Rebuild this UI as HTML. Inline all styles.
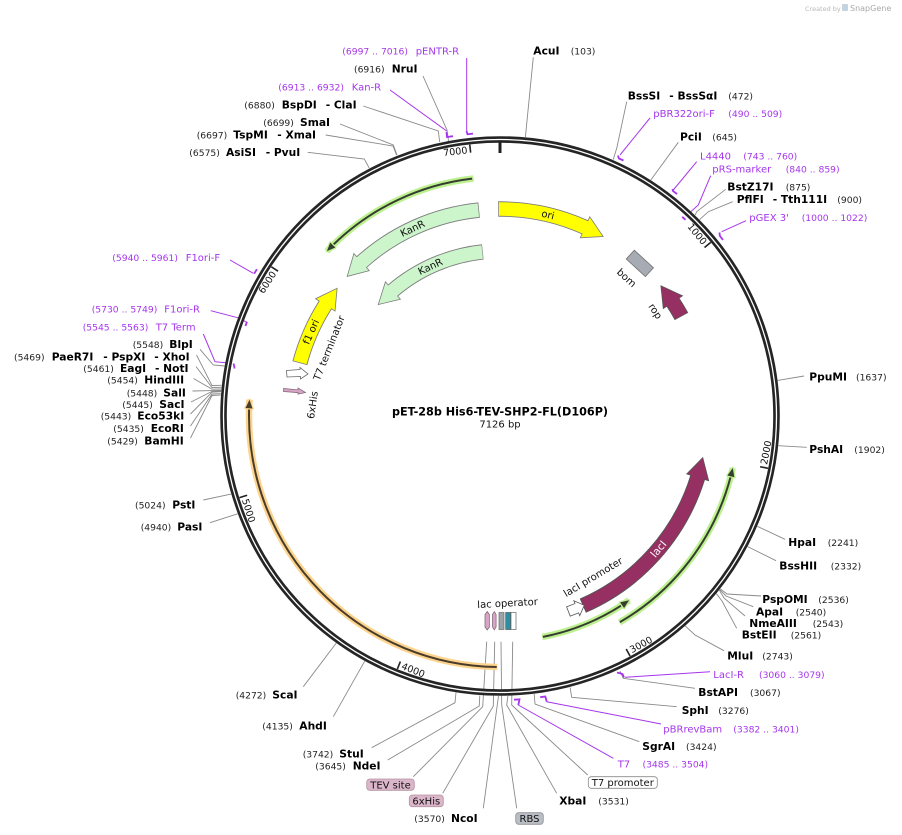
<!DOCTYPE html>
<html><head><meta charset="utf-8"><style>
html,body{margin:0;padding:0;background:#fff;}
svg{display:block;}
text{font-family:"DejaVu Sans","Liberation Sans",sans-serif;}
.n{font-size:10.7px;font-weight:bold;fill:#000;}
.c{font-size:9.2px;fill:#222;}
.p{font-size:10px;fill:#a535ec;}
.pc{font-size:9.2px;fill:#a535ec;}
.l{fill:none;stroke:#8a8a8a;stroke-width:0.9;}
.pl{fill:none;stroke:#a535ec;stroke-width:1;}
.pm{fill:none;stroke:#a535ec;stroke-width:1.8;}
.f{font-size:10px;fill:#111;}
.t{font-size:9.5px;fill:#111;}
.tk{stroke:#222;stroke-width:1.6;}
</style></head><body>
<svg width="902" height="835" viewBox="0 0 902 835" xmlns="http://www.w3.org/2000/svg">
<rect width="902" height="835" fill="#fff"/>

<!-- watermark -->
<text x="805" y="11" style="font-size:6.5px;fill:#b8b8b8">Created by</text>
<rect x="842" y="4" width="6" height="7" rx="1" fill="#c5d3de"/>
<text x="850" y="11" style="font-size:8px;fill:#a9a9a9">SnapGene</text>

<!-- leader lines (restriction sites) -->
<polyline class="l" points="423,76 447,130 448.5,141"/>
<polyline class="l" points="363.3,106 438.3,131 439.7,142"/>
<polyline class="l" points="340,124 393.3,145 397,155"/>
<polyline class="l" points="325.7,135 393,146 396.5,155"/>
<polyline class="l" points="307.7,152.3 364.3,159 369.2,168"/>
<polyline class="l" points="533.3,57.3 525.4,137"/>
<polyline class="l" points="626.7,101.7 616.7,148.3 613.2,159.5"/>
<polyline class="l" points="678.3,142.3 650.8,180"/>
<polyline class="l" points="725.7,189.3 696.7,211.7 695.2,215"/>
<polyline class="l" points="732.7,201.7 708.3,211.7 699.6,219.6"/>
<polyline class="l" points="804,376 777.7,380.4"/>
<polyline class="l" points="806.7,447.3 778.4,445.7"/>
<polyline class="l" points="785,539.3 757.3,526.3"/>
<polyline class="l" points="776,560.7 747.7,546.6"/>
<polyline class="l" points="761,596 727,594 720.3,588.8"/>
<polyline class="l" points="753.3,606.7 726,596 719.7,589.5"/>
<polyline class="l" points="745,616 724,598 719.3,590.1"/>
<polyline class="l" points="736.7,628.3 722,601 716.4,593.7"/>
<polyline class="l" points="724,650.7 695,635 685.2,625.9"/>
<polyline class="l" points="695,688.3 623.3,678.3 620,671"/>
<polyline class="l" points="676.7,706.7 571.7,697.3 570.1,687.5"/>
<polyline class="l" points="639.3,741.7 535,704 534.2,694"/>
<polyline class="l" points="587.7,775 511.7,705 512.7,641.7"/>
<polyline class="l" points="556.7,793.3 506.7,705 507.9,696"/>
<polyline class="l" points="516.7,808.3 501.7,705 501,641.7"/>
<polyline class="l" points="483.3,808.3 498.5,696"/>
<polyline class="l" points="442.7,793.3 493.3,706 494.7,641.7"/>
<polyline class="l" points="413.3,776.7 482.7,706.7 486.7,641.7"/>
<polyline class="l" points="387.7,760 479.3,706 479.8,695.5"/>
<polyline class="l" points="371.7,747.7 455,702.7 456,692.5"/>
<polyline class="l" points="333.3,716.7 364.7,661.2"/>
<polyline class="l" points="303.3,686.7 336.2,643.1"/>
<polyline class="l" points="210,522.7 237.6,513.8"/>
<polyline class="l" points="203.3,500 231.1,494.1"/>
<polyline class="l" points="190.5,438 212,395.5 220.8,395.1"/>
<polyline class="l" points="190.5,426 212,394 220.9,393.7"/>
<polyline class="l" points="190.5,414 212,392.2 221,391.7"/>
<polyline class="l" points="191,402 212,391.4 221,391.2"/>
<polyline class="l" points="192.5,391 212,390.6 221.2,390.5"/>
<polyline class="l" points="193.5,378.5 212,389.2 221.3,389"/>
<polyline class="l" points="196,366.5 212,387.5 221.5,387.3"/>
<polyline class="l" points="196.5,355 212,385.5 221.7,385.3"/>
<polyline class="l" points="200,349.3 213.3,365 224.5,366"/>

<!-- primer leaders -->
<polyline class="pl" points="466.7,58 466.7,132"/>
<polyline class="pm" points="466.5,131 467.5,134.3 473,133.6"/>
<polyline class="pl" points="390,90 446.7,131"/>
<polyline class="pm" points="446.5,132 447,137 453,136.2"/>
<polyline class="pl" points="650,118 620,155"/>
<polyline class="pm" points="618,155.5 618.9,158.5 623.5,160.5"/>
<polyline class="pl" points="696.7,161.7 673.3,190"/>
<polyline class="pm" points="672.5,189 673,191 677,194"/>
<polyline class="pl" points="710.7,175.7 698.3,205 686,216"/>
<polyline class="pm" points="682.2,216.8 685.5,219.8"/>
<polyline class="pl" points="746,220.7 721.7,231.7"/>
<polyline class="pm" points="719.5,232.5 719.8,235.8 723,240"/>
<polyline class="pl" points="710,671.7 625,677.3"/>
<polyline class="pm" points="617,672.5 622.5,674 624,677.5"/>
<polyline class="pl" points="661,724 546.7,701.7"/>
<polyline class="pm" points="540.2,697.2 545.3,696.5 546.7,701.7"/>
<polyline class="pl" points="613.3,758.3 518.3,705"/>
<polyline class="pm" points="514,699.7 519.5,699.4 518.3,705"/>
<polyline class="pl" points="230,260 253.3,273.3"/>
<polyline class="pm" points="254.2,273.7 256.9,269.2"/>
<polyline class="pl" points="210.7,310.7 240,318.3 246,322"/>
<polyline class="pm" points="245.4,326 247,321.7"/>
<polyline class="pl" points="203.3,334 215,361.7 230,363.3"/>
<polyline class="pm" points="233.6,363.5 234.6,368.5"/>

<!-- ring -->
<circle cx="500" cy="416" r="276.5" fill="none" stroke="#252525" stroke-width="6.6"/>
<circle cx="500" cy="416" r="276.5" fill="none" stroke="#fff" stroke-width="1.3"/>

<!-- ticks -->
<line x1="500" y1="140.5" x2="500" y2="153" stroke="#222" stroke-width="3"/>
<g transform="rotate(50.52 500 416)"><line class="tk" x1="500" y1="143" x2="500" y2="151"/><text class="t" x="497" y="151.4" text-anchor="end">1000</text></g>
<g transform="rotate(101.04 500 416)"><line class="tk" x1="500" y1="143" x2="500" y2="151"/><text class="t" x="497" y="151.4" transform="rotate(180 497 148)">2000</text></g>
<g transform="rotate(151.56 500 416)"><line class="tk" x1="500" y1="143" x2="500" y2="151"/><text class="t" x="497" y="151.4" transform="rotate(180 497 148)">3000</text></g>
<g transform="rotate(202.08 500 416)"><line class="tk" x1="500" y1="143" x2="500" y2="151"/><text class="t" x="497" y="151.4" transform="rotate(180 497 148)">4000</text></g>
<g transform="rotate(252.6 500 416)"><line class="tk" x1="500" y1="143" x2="500" y2="151"/><text class="t" x="497" y="151.4" transform="rotate(180 497 148)">5000</text></g>
<g transform="rotate(303.12 500 416)"><line class="tk" x1="500" y1="143" x2="500" y2="151"/><text class="t" x="497" y="151.4" text-anchor="end">6000</text></g>
<g transform="rotate(353.64 500 416)"><line class="tk" x1="500" y1="143" x2="500" y2="151"/><text class="t" x="497" y="151.4" text-anchor="end">7000</text></g>

<!-- ORF glows -->
<circle cx="500" cy="416" r="239" fill="none" stroke="#bdf08f" stroke-width="6.5" stroke-dasharray="167 2000" transform="rotate(223.6 500 416)"/>
<circle cx="500" cy="416" r="239" fill="none" stroke="#353d31" stroke-width="2" stroke-dasharray="156.6 2000" transform="rotate(225.76 500 416)"/>
<g transform="rotate(313.6 500 416)"><polygon points="500,177 508.5,173.5 508.5,180.5" fill="#353d31" stroke="#bdf08f" stroke-width="2.5" stroke-linejoin="round" paint-order="stroke"/></g>

<circle cx="500" cy="416" r="238.5" fill="none" stroke="#bdf08f" stroke-width="6.5" stroke-dasharray="197 2000" transform="rotate(12.6 500 416)"/>
<circle cx="500" cy="416" r="238.5" fill="none" stroke="#353d31" stroke-width="2" stroke-dasharray="187.5 2000" transform="rotate(14.76 500 416)"/>
<g transform="rotate(102.6 500 416)"><polygon points="500,177.5 508.5,174 508.5,181" fill="#353d31" stroke="#bdf08f" stroke-width="2.5" stroke-linejoin="round" paint-order="stroke"/></g>

<circle cx="500" cy="416" r="225" fill="none" stroke="#bdf08f" stroke-width="6.5" stroke-dasharray="95 2000" transform="rotate(55 500 416)"/>
<circle cx="500" cy="416" r="225" fill="none" stroke="#353d31" stroke-width="2" stroke-dasharray="85.25 2000" transform="rotate(57.29 500 416)"/>
<g transform="rotate(145 500 416)"><polygon points="500,191 508.5,187.5 508.5,194.5" fill="#353d31" stroke="#bdf08f" stroke-width="2.5" stroke-linejoin="round" paint-order="stroke"/></g>

<circle cx="500" cy="416" r="251" fill="none" stroke="#fcd48e" stroke-width="6.5" stroke-dasharray="408 2000" transform="rotate(90.6 500 416)"/>
<circle cx="500" cy="416" r="251" fill="none" stroke="#4a3c2a" stroke-width="2" stroke-dasharray="398.2 2000" transform="rotate(90.75 500 416)"/>
<g transform="rotate(273.7 500 416)"><polygon points="500,165 491.5,161.5 491.5,168.5" fill="#4a3c2a" stroke="#fcd48e" stroke-width="2.5" stroke-linejoin="round" paint-order="stroke"/></g>

<!-- ori -->
<circle cx="500" cy="416" r="207" fill="none" stroke="#7d7d7d" stroke-width="15.4" stroke-dasharray="89.45 2000" transform="rotate(-90.5 500 416)"/>
<g transform="rotate(24.26 500 416)"><polygon points="500,197.5 500,220.5 520.3,210" fill="#ffff00" stroke="#7d7d7d" stroke-width="0.8"/></g>
<circle cx="500" cy="416" r="207" fill="none" stroke="#ffff00" stroke-width="13.6" stroke-dasharray="89.42 2000" transform="rotate(-90.3 500 416)"/>
<text class="f" x="500" y="212.5" text-anchor="middle" transform="rotate(13.4 500 416)">ori</text>

<!-- KanR 1 -->
<circle cx="500" cy="416" r="207" fill="none" stroke="#7d7d7d" stroke-width="15.4" stroke-dasharray="130.64 2000" transform="rotate(228.04 500 416)"/>
<g transform="rotate(318.04 500 416)"><polygon points="500,197.5 500,220.5 479.7,210" fill="#ccf5cc" stroke="#7d7d7d" stroke-width="0.8"/></g>
<circle cx="500" cy="416" r="207" fill="none" stroke="#ccf5cc" stroke-width="13.6" stroke-dasharray="130.78 2000" transform="rotate(227.8 500 416)"/>
<text class="f" x="500" y="212.5" text-anchor="middle" transform="rotate(335 500 416)">KanR</text>

<!-- KanR 2 -->
<circle cx="500" cy="416" r="165" fill="none" stroke="#7d7d7d" stroke-width="15.4" stroke-dasharray="99.24 2000" transform="rotate(229.54 500 416)"/>
<g transform="rotate(319.54 500 416)"><polygon points="500,239.5 500,262.5 479.7,252.2" fill="#ccf5cc" stroke="#7d7d7d" stroke-width="0.8"/></g>
<circle cx="500" cy="416" r="165" fill="none" stroke="#ccf5cc" stroke-width="13.6" stroke-dasharray="99.35 2000" transform="rotate(229.3 500 416)"/>
<text class="f" x="500" y="254.5" text-anchor="middle" transform="rotate(335 500 416)">KanR</text>

<!-- f1 ori -->
<circle cx="500" cy="416" r="207" fill="none" stroke="#7d7d7d" stroke-width="15.4" stroke-dasharray="63.8 2000" transform="rotate(194.8 500 416)"/>
<g transform="rotate(302.46 500 416)"><polygon points="500,197.5 500,220.5 520.3,210" fill="#ffff00" stroke="#7d7d7d" stroke-width="0.8"/></g>
<circle cx="500" cy="416" r="207" fill="none" stroke="#ffff00" stroke-width="13.6" stroke-dasharray="63.77 2000" transform="rotate(195 500 416)"/>
<text class="f" x="500" y="212.5" text-anchor="middle" transform="rotate(294 500 416)">f1 ori</text>

<!-- lacI -->
<circle cx="500" cy="416" r="207" fill="none" stroke="#555" stroke-width="15.4" stroke-dasharray="177.61 2000" transform="rotate(17.24 500 416)"/>
<g transform="rotate(107.24 500 416)"><polygon points="500,197.5 500,220.5 479.7,210" fill="#963062" stroke="#555" stroke-width="0.8"/></g>
<circle cx="500" cy="416" r="207" fill="none" stroke="#963062" stroke-width="13.6" stroke-dasharray="177.75 2000" transform="rotate(17 500 416)"/>
<g transform="rotate(130 500 416)"><text x="500" y="212.5" text-anchor="middle" style="font-size:10.5px;fill:#fff" transform="rotate(180 500 209)">lacI</text></g>

<!-- rop -->
<circle cx="500" cy="416" r="207" fill="none" stroke="#555" stroke-width="15.4" stroke-dasharray="16.66 2000" transform="rotate(-33.36 500 416)"/>
<g transform="rotate(56.64 500 416)"><polygon points="500,197.5 500,220.5 479.7,210" fill="#963062" stroke="#555" stroke-width="0.8"/></g>
<circle cx="500" cy="416" r="207" fill="none" stroke="#963062" stroke-width="13.6" stroke-dasharray="16.8 2000" transform="rotate(-33.6 500 416)"/>
<text class="f" x="500" y="232" text-anchor="middle" transform="rotate(56 500 416)">rop</text>

<!-- bom -->
<g transform="rotate(42.5 500 416)"><rect x="487" y="203" width="26" height="12" fill="#a7abb3" stroke="#6f6f6f" stroke-width="0.8"/></g>
<text class="f" x="500" y="232" text-anchor="middle" transform="rotate(42.5 500 416)">bom</text>

<!-- lacI promoter -->
<g transform="rotate(158.5 500 416)"><polygon points="508,204 499,204 499,201 491,209 499,217 499,214 508,214" fill="#fff" stroke="#555" stroke-width="0.8"/></g>
<text class="f" x="593" y="580.5" text-anchor="middle" transform="rotate(-31 593 577)">lacI promoter</text>

<!-- T7 terminator / 6xHis (left) -->
<polygon points="286.5,370.5 300,369.5 300,367.5 308,374 300.5,379 300.5,376.5 287,377" fill="#fff" stroke="#666" stroke-width="0.8"/>
<polygon points="283.5,388.5 298,389.8 298,388 305.5,392.5 298,394.2 298,392.6 283.5,391.6" fill="#d6a4c4" stroke="#7a6070" stroke-width="0.7"/>
<text class="f" x="329" y="351.5" text-anchor="middle" transform="rotate(-68.3 329 348)">T7 terminator</text>
<text class="f" x="312.5" y="408.5" text-anchor="middle" transform="rotate(-82 312.5 405)">6xHis</text>

<!-- lac cluster -->
<polygon points="487.2,611.5 489.4,614.5 489.4,627 487.2,630 485,627 485,614.5" fill="#d6a4c4" stroke="#7a6070" stroke-width="0.7"/>
<polygon points="494.3,611.5 496.1,614.5 496.1,627 494.3,630 492.5,627 492.5,614.5" fill="#d6a4c4" stroke="#7a6070" stroke-width="0.7"/>
<rect x="499" y="612.5" width="5" height="17" fill="#9ea3aa" stroke="#6a6a6a" stroke-width="0.7"/>
<rect x="505.7" y="612.5" width="5" height="17" fill="#2f8ea3" stroke="#555" stroke-width="0.7"/>
<rect x="511" y="612.5" width="5" height="17" fill="#fff" stroke="#666" stroke-width="0.7"/>
<text class="f" x="507.5" y="606.5" text-anchor="middle" transform="rotate(-3 507.5 603)">lac operator</text>

<!-- center title -->
<text x="500" y="415.7" text-anchor="middle" style="font-size:11.2px;font-weight:bold;fill:#000">pET-28b His6-TEV-SHP2-FL(D106P)</text>
<text x="500" y="427.3" text-anchor="middle" style="font-size:10px;fill:#111">7126 bp</text>

<!-- boxes -->
<rect x="588.3" y="776.7" width="69" height="11.6" rx="3" fill="#fff" stroke="#8a8a8a" stroke-width="0.8"/>
<text x="622.8" y="786.1" text-anchor="middle" class="f">T7 promoter</text>
<rect x="515.7" y="812.7" width="27.6" height="11.6" rx="3" fill="#b9bdc4" stroke="#8e9298" stroke-width="0.8"/>
<text x="529.5" y="822.1" text-anchor="middle" class="f">RBS</text>
<rect x="409.3" y="795" width="34" height="11.7" rx="3" fill="#dbb6ca" stroke="#b2929f" stroke-width="0.8"/>
<text x="426.3" y="804.5" text-anchor="middle" class="f">6xHis</text>
<rect x="366.7" y="779" width="47.6" height="11.3" rx="3" fill="#dbb6ca" stroke="#b2929f" stroke-width="0.8"/>
<text x="390.5" y="788.3" text-anchor="middle" class="f">TEV site</text>

<!-- labels top-left -->
<text class="pc" x="342.3" y="54.3">(6997 .. 7016)</text><text class="p" x="415.7" y="54.3">pENTR-R</text>
<text class="c" x="354" y="72.6">(6916)</text><text class="n" x="391.7" y="72.6">NruI</text>
<text class="pc" x="278.3" y="90.3">(6913 .. 6932)</text><text class="p" x="351.7" y="90.3">Kan-R</text>
<text class="c" x="244.3" y="108.3">(6880)</text><text class="n" x="281.7" y="108.3">BspDI</text><text class="n" x="325.7" y="108.3">- ClaI</text>
<text class="c" x="263.3" y="125.9">(6699)</text><text class="n" x="300" y="125.9">SmaI</text>
<text class="c" x="196.7" y="138.6">(6697)</text><text class="n" x="233.3" y="138.6">TspMI</text><text class="n" x="277.3" y="138.6">- XmaI</text>
<text class="c" x="189.3" y="155.9">(6575)</text><text class="n" x="226" y="155.9">AsiSI</text><text class="n" x="265.7" y="155.9">- PvuI</text>

<!-- labels top-right -->
<text class="n" x="533.3" y="54.3">AcuI</text><text class="c" x="570.7" y="54.3">(103)</text>
<text class="n" x="627.7" y="99.3">BssSI</text><text class="n" x="669.3" y="99.3">- BssSαI</text><text class="c" x="728.3" y="99.3">(472)</text>
<text class="p" x="653.3" y="116.9">pBR322ori-F</text><text class="pc" x="728.3" y="116.9">(490 .. 509)</text>
<text class="n" x="680" y="140.3">PciI</text><text class="c" x="712.3" y="140.3">(645)</text>
<text class="p" x="700" y="159.6">L4440</text><text class="pc" x="743.3" y="159.6">(743 .. 760)</text>
<text class="p" x="712.3" y="172.6">pRS-marker</text><text class="pc" x="785.7" y="172.6">(840 .. 859)</text>
<text class="n" x="727.3" y="190.3">BstZ17I</text><text class="c" x="785.7" y="190.3">(875)</text>
<text class="n" x="736.7" y="202.9">PflFI</text><text class="n" x="772.7" y="202.9">- Tth111I</text><text class="c" x="837.3" y="202.9">(900)</text>
<text class="p" x="749.3" y="220.9">pGEX 3'</text><text class="pc" x="801.7" y="220.9">(1000 .. 1022)</text>

<!-- labels right -->
<text class="n" x="809.3" y="380.3">PpuMI</text><text class="c" x="856" y="380.3">(1637)</text>
<text class="n" x="809.3" y="452.9">PshAI</text><text class="c" x="854.3" y="452.9">(1902)</text>
<text class="n" x="788.3" y="545.9">HpaI</text><text class="c" x="827.7" y="545.9">(2241)</text>
<text class="n" x="779.3" y="569.3">BssHII</text><text class="c" x="830.7" y="569.3">(2332)</text>
<text class="n" x="762.3" y="602.9">PspOMI</text><text class="c" x="818.3" y="602.9">(2536)</text>
<text class="n" x="756" y="615.3">ApaI</text><text class="c" x="795.7" y="615.3">(2540)</text>
<text class="n" x="749.3" y="626.9">NmeAIII</text><text class="c" x="812.7" y="626.9">(2543)</text>
<text class="n" x="741.7" y="638.6">BstEII</text><text class="c" x="790.7" y="638.6">(2561)</text>
<text class="n" x="727.3" y="659.6">MluI</text><text class="c" x="762.3" y="659.6">(2743)</text>
<text class="p" x="713.3" y="677.9">LacI-R</text><text class="pc" x="759" y="677.9">(3060 .. 3079)</text>
<text class="n" x="698.3" y="695.9">BstAPI</text><text class="c" x="750" y="695.9">(3067)</text>
<text class="n" x="681.7" y="714.1">SphI</text><text class="c" x="718.3" y="714.1">(3276)</text>
<text class="p" x="663.3" y="732.3">pBRrevBam</text><text class="pc" x="733.3" y="732.3">(3382 .. 3401)</text>
<text class="n" x="642.3" y="750.1">SgrAI</text><text class="c" x="686" y="750.1">(3424)</text>
<text class="p" x="617.7" y="767.6">T7</text><text class="pc" x="642.5" y="767.6">(3485 .. 3504)</text>
<text class="n" x="559.3" y="804.3">XbaI</text><text class="c" x="598.3" y="804.3">(3531)</text>

<!-- labels bottom-left -->
<text class="c" x="414.3" y="821.9">(3570)</text><text class="n" x="451" y="821.9">NcoI</text>
<text class="c" x="315.3" y="769.6">(3645)</text><text class="n" x="352.7" y="769.6">NdeI</text>
<text class="c" x="302.7" y="757.6">(3742)</text><text class="n" x="339.3" y="757.6">StuI</text>
<text class="c" x="262.3" y="729.3">(4135)</text><text class="n" x="299.3" y="729.3">AhdI</text>
<text class="c" x="235.7" y="698.6">(4272)</text><text class="n" x="272.3" y="698.6">ScaI</text>

<!-- labels left -->
<text class="c" x="140.7" y="530.3">(4940)</text><text class="n" x="177.3" y="530.3">PasI</text>
<text class="c" x="135" y="508.6">(5024)</text><text class="n" x="172.3" y="508.6">PstI</text>
<text class="c" x="107.3" y="444.3">(5429)</text><text class="n" x="144.3" y="444.3">BamHI</text>
<text class="c" x="113.3" y="431.9">(5435)</text><text class="n" x="150.7" y="431.9">EcoRI</text>
<text class="c" x="100.7" y="419.6">(5443)</text><text class="n" x="137.3" y="419.6">Eco53kI</text>
<text class="c" x="122.3" y="407.9">(5445)</text><text class="n" x="159.3" y="407.9">SacI</text>
<text class="c" x="126.7" y="396.3">(5448)</text><text class="n" x="163.3" y="396.3">SalI</text>
<text class="c" x="107.3" y="383.6">(5454)</text><text class="n" x="144.3" y="383.6">HindIII</text>
<text class="c" x="83.3" y="371.9">(5461)</text><text class="n" x="120" y="371.9">EagI</text><text class="n" x="155" y="371.9">- NotI</text>
<text class="c" x="14" y="360.3">(5469)</text><text class="n" x="51.7" y="360.3">PaeR7I</text><text class="n" x="103.3" y="360.3">- PspXI</text><text class="n" x="154.3" y="360.3">- XhoI</text>
<text class="c" x="132.7" y="347.9">(5548)</text><text class="n" x="169.3" y="347.9">BlpI</text>
<text class="pc" x="82.7" y="330.3">(5545 .. 5563)</text><text class="p" x="155.7" y="330.3">T7 Term</text>
<text class="pc" x="91.7" y="312.6">(5730 .. 5749)</text><text class="p" x="164.3" y="312.6">F1ori-R</text>
<text class="pc" x="112.3" y="260.9">(5940 .. 5961)</text><text class="p" x="185.7" y="260.9">F1ori-F</text>
</svg>
</body></html>
